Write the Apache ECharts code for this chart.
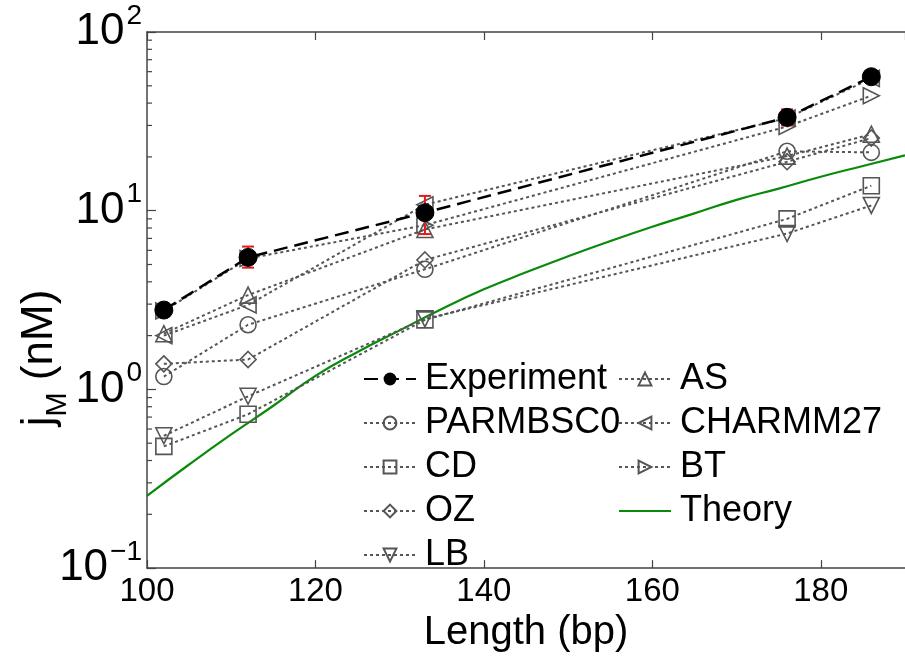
<!DOCTYPE html>
<html>
<head>
<meta charset="utf-8">
<script src="https://cdn.jsdelivr.net/npm/echarts@6/dist/echarts.min.js"></script>
<style>html,body{margin:0;padding:0;background:#fff}#c{width:905px;height:658px}</style>
</head>
<body>
<div id="c"></div>
<script>
// ---- data ----
const lengths = [102, 112, 133, 176, 186];
const experiment = [2.78, 5.48, 9.75, 33.3, 56.2];
const expErrLow = [2.6, 4.8, 7.4, 30.0, 53.0];
const expErrHigh = [2.95, 6.3, 12.1, 36.9, 59.0];
const parmbsc0 = [1.18, 2.30, 4.7, 21.5, 21.2];
const cd = [0.48, 0.726, 2.45, 9.0, 13.8];
const oz = [1.39, 1.47, 5.3, 18.8, 25.5];
const lb = [0.55, 0.915, 2.48, 7.45, 10.7];
const as = [2.05, 3.37, 7.85, 20.2, 26.8];
const charmm27 = [2.0, 2.97, 10.8, 33.0, 55.0];
const bt = [2.75, 5.4, 8.3, 29.6, 44.0];
const theoryLength = [100,105,110,115,120,125,130,135,140,145,150,155,160,165,170,175,180,185,190];
const theoryJ = [0.254,0.38,0.56,0.81,1.19,1.62,2.14,2.82,3.63,4.52,5.56,6.76,8.13,9.66,11.5,13.3,15.5,17.8,20.4];
const minorTickVals = [0.2,0.3,0.4,0.5,0.6,0.7,0.8,0.9,2,3,4,5,6,7,8,9,20,30,40,50,60,70,80,90];

const FONT = 'Liberation Sans';
const GRAY = '#555';

function pairs(xs, ys){ return xs.map((x,i)=>[x, ys[i]]); }

function modelSeries(name, values, symbol){
  return {
    name: name, type: 'line', data: pairs(lengths, values),
    symbol: symbol, symbolSize: 16,
    showAllSymbol: true,
    itemStyle: {color: 'rgba(255,255,255,0)', borderColor: GRAY, borderWidth: 1.6},
    lineStyle: {color: GRAY, width: 2, type: [3, 3]},
    z: 3, emphasis: {disabled: true}
  };
}

const triDown = 'path://M0,0 L10,0 L5,9 Z';
const triUp = 'path://M5,0 L10,9 L0,9 Z';
const triLeft = 'path://M0,5 L9,0 L9,10 Z';
const triRight = 'path://M0,0 L9,5 L0,10 Z';

const legendText = {fontSize: 36, fontFamily: FONT, color: '#000', lineHeight: 36, padding: [0,0,0,4]};

const option = {
  animation: false,
  backgroundColor: '#fff',
  grid: {left: 147, right: 0, top: 32, bottom: 85, containLabel: false},
  xAxis: [{
    type: 'value', min: 100, max: 190, interval: 20,
    name: 'Length (bp)', nameLocation: 'middle', nameGap: 38,
    nameTextStyle: {fontSize: 40, fontFamily: FONT, color: '#000'},
    axisLine: {show: true, lineStyle: {color: '#444', width: 1.5}},
    axisTick: {show: true, inside: true, length: 8, lineStyle: {color: '#444', width: 1.2}},
    axisLabel: {fontSize: 33, fontFamily: FONT, color: '#000', margin: 7, showMaxLabel: false},
    splitLine: {show: false}
  }, {
    type: 'value', min: 100, max: 190, interval: 20, position: 'top',
    axisLine: {show: true, lineStyle: {color: '#444', width: 1.5}},
    axisTick: {show: true, inside: true, length: 8, lineStyle: {color: '#444', width: 1.2}},
    axisLabel: {show: false}, splitLine: {show: false}
  }],
  yAxis: [{
    type: 'log', logBase: 10, min: 0.1, max: 100,
    axisLine: {show: true, lineStyle: {color: '#444', width: 1.5}},
    axisTick: {show: true, inside: true, length: 9, lineStyle: {color: '#444', width: 1.2}},
    splitLine: {show: false},
    axisLabel: {
      margin: 5, fontFamily: FONT, color: '#000',
      formatter: function(v){
        const e = Math.round(Math.log10(v));
        return '{b|10}{s|' + (e < 0 ? '\u2212' + (-e) : e) + '}';
      },
      rich: {
        b: {fontSize: 44, fontFamily: FONT, color: '#000', lineHeight: 44},
        s: {fontSize: 28, fontFamily: FONT, color: '#000', verticalAlign: 'top', lineHeight: 44, padding: [-8, 0, 0, 2]}
      }
    }
  }],
  legend: [{
    orient: 'vertical', left: 358, top: 356, selectedMode: false,
    data: ['Experiment', 'PARMBSC0', 'CD', 'OZ', 'LB'],
    itemWidth: 52, itemHeight: 16, itemGap: 8, textStyle: legendText
  }, {
    orient: 'vertical', left: 613, top: 356, selectedMode: false,
    data: ['AS', 'CHARMM27', 'BT', {name: 'Theory', itemStyle: {color: 'rgba(0,0,0,0)', borderColor: 'rgba(0,0,0,0)'}}],
    itemWidth: 52, itemHeight: 16, itemGap: 8, textStyle: legendText
  }],
  graphic: [{
    type: 'text', x: 40, y: 358, rotation: Math.PI / 2,
    style: {
      text: '{j|j}{m|M}{n| (nM)}', align: 'center', verticalAlign: 'middle',
      rich: {
        j: {fontSize: 44, fontFamily: FONT, fill: '#000', lineHeight: 48},
        m: {fontSize: 29, fontFamily: FONT, fill: '#000', verticalAlign: 'bottom', lineHeight: 48, padding: [0,0,-8,0]},
        n: {fontSize: 44, fontFamily: FONT, fill: '#000', lineHeight: 48}
      }
    }
  }],
  series: [
    {
      name: 'Theory', type: 'line', data: pairs(theoryLength, theoryJ),
      symbol: 'none', smooth: true,
      lineStyle: {color: '#0a8a0a', width: 2.2}, itemStyle: {color: '#0a8a0a'}, z: 2
    },
    modelSeries('PARMBSC0', parmbsc0, 'circle'),
    modelSeries('CD', cd, 'rect'),
    modelSeries('OZ', oz, 'diamond'),
    modelSeries('LB', lb, triDown),
    modelSeries('AS', as, triUp),
    modelSeries('CHARMM27', charmm27, triLeft),
    modelSeries('BT', bt, triRight),
    {
      name: 'minorTicks', type: 'custom', silent: true, z: 1,
      data: minorTickVals.map(v => [100, v]),
      renderItem: function(params, api){
        const p = api.coord([api.value(0), api.value(1)]);
        return {type: 'line', shape: {x1: p[0], y1: p[1], x2: p[0] + 5, y2: p[1]},
                style: {stroke: '#444', lineWidth: 1.2}};
      }
    },
    {
      name: 'errorBars', type: 'custom', silent: true, z: 4,
      data: lengths.map((x, i) => [x, expErrLow[i], expErrHigh[i]]),
      renderItem: function(params, api){
        const lo = api.coord([api.value(0), api.value(1)]);
        const hi = api.coord([api.value(0), api.value(2)]);
        const w = 6;
        const st = {stroke: '#e41a1a', lineWidth: 2};
        return {type: 'group', children: [
          {type: 'line', shape: {x1: lo[0], y1: lo[1], x2: hi[0], y2: hi[1]}, style: st},
          {type: 'line', shape: {x1: lo[0]-w, y1: lo[1], x2: lo[0]+w, y2: lo[1]}, style: st},
          {type: 'line', shape: {x1: hi[0]-w, y1: hi[1], x2: hi[0]+w, y2: hi[1]}, style: st}
        ]};
      }
    },
    {
      name: 'Experiment', type: 'line', data: pairs(lengths, experiment),
      symbol: 'circle', symbolSize: 18, showAllSymbol: true,
      itemStyle: {color: '#000', borderColor: '#000'},
      lineStyle: {color: '#000', width: 2.5, type: [14, 7]},
      z: 5, emphasis: {disabled: true}
    }
  ]
};

const chart = echarts.init(document.getElementById('c'), null, {renderer: 'canvas'});
chart.setOption(option);
</script>
</body>
</html>
